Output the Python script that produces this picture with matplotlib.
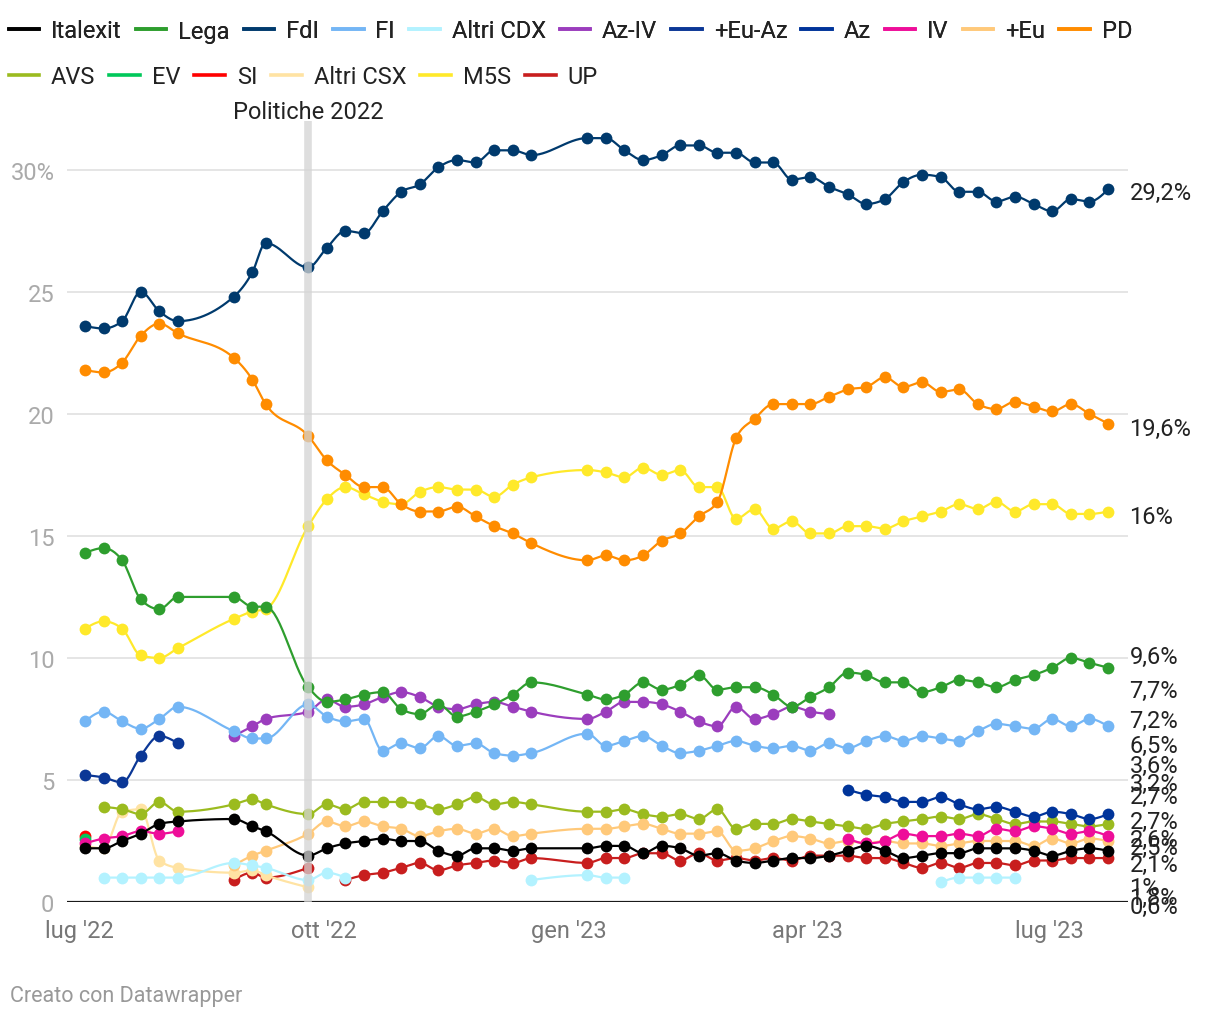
import numpy as np
import pandas as pd
import matplotlib
matplotlib.use('Agg')
from matplotlib import pyplot as plt
from matplotlib import dates as mdates
from matplotlib.lines import Line2D

plt.rcParams['font.family'] = ['Roboto', 'DejaVu Sans']

# Date dei sondaggi (una riga per settimana, con qualche buco)
dates = pd.to_datetime([
    '2022-07-03', '2022-07-10', '2022-07-17', '2022-07-24', '2022-07-31', '2022-08-07',
    '2022-08-28', '2022-09-04', '2022-09-09', '2022-09-25',
    '2022-10-02', '2022-10-09', '2022-10-16', '2022-10-23', '2022-10-30', '2022-11-06',
    '2022-11-13', '2022-11-20', '2022-11-27', '2022-12-04', '2022-12-11', '2022-12-18',
    '2023-01-08', '2023-01-15', '2023-01-22', '2023-01-29', '2023-02-05', '2023-02-12',
    '2023-02-19', '2023-02-26', '2023-03-05', '2023-03-12', '2023-03-19', '2023-03-26',
    '2023-04-02', '2023-04-09', '2023-04-16', '2023-04-23', '2023-04-30', '2023-05-07',
    '2023-05-14', '2023-05-21', '2023-05-28', '2023-06-04', '2023-06-11', '2023-06-18',
    '2023-06-25', '2023-07-02', '2023-07-09', '2023-07-16', '2023-07-23'])

N = None
italexit = [2.2, 2.2, 2.5, 2.8, 3.2, 3.3, 3.4, 3.1, 2.9, 1.9,
            2.2, 2.4, 2.5, 2.6, 2.5, 2.5, 2.1, 1.9, 2.2, 2.2, 2.1, 2.2,
            2.2, 2.3, 2.3, 2.0, 2.3, 2.2, 1.9, 2.0, 1.7, 1.6, 1.7, 1.8, 1.8, 1.9,
            2.1, 2.3, 2.1, 1.8, 1.9, 2.0, 2.0, 2.2, 2.2, 2.2, 2.1, 1.9, 2.1, 2.2, 2.1]
lega = [14.3, 14.5, 14.0, 12.4, 12.0, 12.5, 12.5, 12.1, 12.1, 8.8,
        8.2, 8.3, 8.5, 8.6, 7.9, 7.7, 8.1, 7.6, 7.8, 8.1, 8.5, 9.0,
        8.5, 8.3, 8.5, 9.0, 8.7, 8.9, 9.3, 8.7, 8.8, 8.8, 8.5, 8.0, 8.4, 8.8,
        9.4, 9.3, 9.0, 9.0, 8.6, 8.8, 9.1, 9.0, 8.8, 9.1, 9.3, 9.6, 10.0, 9.8, 9.6]
fdi = [23.6, 23.5, 23.8, 25.0, 24.2, 23.8, 24.8, 25.8, 27.0, 26.0,
       26.8, 27.5, 27.4, 28.3, 29.1, 29.4, 30.1, 30.4, 30.3, 30.8, 30.8, 30.6,
       31.3, 31.3, 30.8, 30.4, 30.6, 31.0, 31.0, 30.7, 30.7, 30.3, 30.3, 29.6, 29.7, 29.3,
       29.0, 28.6, 28.8, 29.5, 29.8, 29.7, 29.1, 29.1, 28.7, 28.9, 28.6, 28.3, 28.8, 28.7, 29.2]
fi = [7.4, 7.8, 7.4, 7.1, 7.5, 8.0, 7.0, 6.7, 6.7, 8.1,
      7.6, 7.4, 7.5, 6.2, 6.5, 6.3, 6.8, 6.4, 6.5, 6.1, 6.0, 6.1,
      6.9, 6.4, 6.6, 6.8, 6.4, 6.1, 6.2, 6.4, 6.6, 6.4, 6.3, 6.4, 6.2, 6.5,
      6.3, 6.6, 6.8, 6.6, 6.8, 6.7, 6.6, 7.0, 7.3, 7.2, 7.1, 7.5, 7.2, 7.5, 7.2]
altri_cdx = [N, 1.0, 1.0, 1.0, 1.0, 1.0, 1.6, 1.5, 1.4, 0.9,
             1.2, 1.0, N, N, N, N, N, N, N, N, N, 0.9,
             1.1, 1.0, 1.0, N, N, N, N, N, N, N, N, N, N, N,
             N, N, N, N, N, 0.8, 1.0, 1.0, 1.0, 1.0, N, N, N, N, N]
az_iv = [N, N, N, N, N, N, 6.8, 7.2, 7.5, 7.8,
         8.3, 8.0, 8.1, 8.4, 8.6, 8.4, 8.0, 7.9, 8.1, 8.2, 8.0, 7.8,
         7.5, 7.8, 8.2, 8.2, 8.1, 7.8, 7.4, 7.2, 8.0, 7.5, 7.7, 8.0, 7.8, 7.7,
         N, N, N, N, N, N, N, N, N, N, N, N, N, N, N]
eu_az = [5.2, 5.1, 4.9, 6.0, 6.8, 6.5] + [N] * 45
az = [N] * 36 + [4.6, 4.4, 4.3, 4.1, 4.1, 4.3, 4.0, 3.8, 3.9, 3.7, 3.5, 3.7, 3.6, 3.4, 3.6]
iv = [2.4, 2.6, 2.7, 2.9, 2.8, 2.9] + [N] * 30 + \
     [2.6, 2.4, 2.5, 2.8, 2.7, 2.7, 2.8, 2.7, 3.0, 2.9, 3.1, 3.0, 2.8, 2.9, 2.7]
piu_eu = [N, N, N, N, N, N, 1.5, 1.9, 2.1, 2.8,
          3.3, 3.1, 3.3, 3.1, 3.0, 2.7, 2.9, 3.0, 2.8, 3.0, 2.7, 2.8,
          3.0, 3.0, 3.1, 3.2, 3.0, 2.8, 2.8, 2.9, 2.1, 2.2, 2.5, 2.7, 2.6, 2.4,
          2.5, 2.4, 2.5, 2.4, 2.4, 2.3, 2.4, 2.5, 2.5, 2.5, 2.3, 2.6, 2.4, 2.6, 2.5]
pd_ = [21.8, 21.7, 22.1, 23.2, 23.7, 23.3, 22.3, 21.4, 20.4, 19.1,
       18.1, 17.5, 17.0, 17.0, 16.3, 16.0, 16.0, 16.2, 15.8, 15.4, 15.1, 14.7,
       14.0, 14.2, 14.0, 14.2, 14.8, 15.1, 15.8, 16.4, 19.0, 19.8, 20.4, 20.4, 20.4, 20.7,
       21.0, 21.1, 21.5, 21.1, 21.3, 20.9, 21.0, 20.4, 20.2, 20.5, 20.3, 20.1, 20.4, 20.0, 19.6]
avs = [N, 3.9, 3.8, 3.6, 4.1, 3.7, 4.0, 4.2, 4.0, 3.6,
       4.0, 3.8, 4.1, 4.1, 4.1, 4.0, 3.8, 4.0, 4.3, 4.0, 4.1, 4.0,
       3.7, 3.7, 3.8, 3.6, 3.5, 3.6, 3.4, 3.8, 3.0, 3.2, 3.2, 3.4, 3.3, 3.2,
       3.1, 3.0, 3.2, 3.3, 3.4, 3.5, 3.4, 3.6, 3.4, 3.2, 3.3, 3.3, 3.2, 3.1, 3.2]
ev = [2.6] + [N] * 50
si = [2.7] + [N] * 50
altri_csx = [2.3, 2.2, 3.7, 3.8, 1.7, 1.4, 1.2, 1.3, 1.1, 0.6] + [N] * 41
m5s = [11.2, 11.5, 11.2, 10.1, 10.0, 10.4, 11.6, 11.9, 12.0, 15.4,
       16.5, 17.0, 16.7, 16.4, 16.3, 16.8, 17.0, 16.9, 16.9, 16.6, 17.1, 17.4,
       17.7, 17.6, 17.4, 17.8, 17.5, 17.7, 17.0, 17.0, 15.7, 16.1, 15.3, 15.6, 15.1, 15.1,
       15.4, 15.4, 15.3, 15.6, 15.8, 16.0, 16.3, 16.1, 16.4, 16.0, 16.3, 16.3, 15.9, 15.9, 16.0]
up = [N, N, N, N, N, N, 0.9, 1.2, 1.0, 1.4,
      N, 0.9, 1.1, 1.2, 1.4, 1.6, 1.3, 1.5, 1.6, 1.7, 1.6, 1.8,
      1.6, 1.8, 1.8, 2.0, 2.0, 1.7, 2.0, 1.7, 1.8, 1.7, 1.8, 1.7, 1.9, 1.9,
      1.9, 1.8, 1.8, 1.6, 1.4, 1.6, 1.4, 1.6, 1.6, 1.5, 1.7, 1.7, 1.8, 1.8, 1.8]

names = ['Italexit', 'Lega', 'FdI', 'FI', 'Altri CDX', 'Az-IV', '+Eu-Az', 'Az', 'IV', '+Eu', 'PD',
         'AVS', 'EV', 'SI', 'Altri CSX', 'M5S', 'UP']
series = [italexit, lega, fdi, fi, altri_cdx, az_iv, eu_az, az, iv, piu_eu, pd_,
          avs, ev, si, altri_csx, m5s, up]
colors = ['#000000', '#2e9e2e', '#003a6d', '#74b6f5', '#b3f2ff', '#9b3dbd', '#0b3796', '#00349a',
          '#ee0e99', '#ffc97a', '#ff8c00', '#9bbb1f', '#00c85a', '#ff0000', '#ffe3a3', '#ffe92a',
          '#c81e1e']

# Etichette a destra (posizione verticale come nel grafico originale)
end_labels = ['29,2%', '19,6%', '16%', '9,6%', '7,7%', '7,2%', '6,5%', '3,6%', '3,2%',
              '2,7%', '2,7%', '2,6%', '2,5%', '2,1%', '1%', '1,8%', '0,6%']
end_label_y = [29.06, 19.4, 15.8, 10.04, 8.65, 7.42, 6.43, 5.61, 4.84,
               4.34, 3.32, 2.58, 2.25, 1.52, 0.61, 0.2, -0.2]

tick_dates = pd.to_datetime(['2022-07-01', '2022-10-01', '2023-01-01', '2023-04-01', '2023-07-01'])
tick_labels = ["lug '22", "ott '22", "gen '23", "apr '23", "lug '23"]
election = pd.Timestamp('2022-09-25')

FS = 17


def monotone_curve(x, y, n=16):
    """Curva monotona (come curveMonotoneX di d3) solo per disegnare la linea."""
    m = len(x)
    if m < 2:
        return x, y
    h = np.diff(x)
    s = np.diff(y) / h
    t = np.zeros(m)
    for i in range(1, m - 1):
        p = (s[i - 1] * h[i] + s[i] * h[i - 1]) / (h[i - 1] + h[i])
        t[i] = (np.sign(s[i - 1]) + np.sign(s[i])) * min(abs(s[i - 1]), abs(s[i]), 0.5 * abs(p))
    if m == 2:
        t[:] = s[0]
    else:
        t[0] = (3 * s[0] - t[1]) / 2
        t[-1] = (3 * s[-1] - t[-2]) / 2
    u = np.linspace(0, 1, n)
    xs, ys = [x[0]], [y[0]]
    for i in range(m - 1):
        uu = u[1:]
        h00 = 2 * uu**3 - 3 * uu**2 + 1
        h10 = uu**3 - 2 * uu**2 + uu
        h01 = -2 * uu**3 + 3 * uu**2
        h11 = uu**3 - uu**2
        xs.extend(x[i] + uu * h[i])
        ys.extend(h00 * y[i] + h10 * h[i] * t[i] + h01 * y[i + 1] + h11 * h[i] * t[i + 1])
    return np.array(xs), np.array(ys)


fig = plt.figure(figsize=(12.2, 10.2), dpi=100)
ax = fig.add_axes([67 / 1220, 1 - 903 / 1020, (1128 - 67) / 1220, (903 - 122) / 1020])
xnum = mdates.date2num(dates)

for i in range(len(series) - 1, -1, -1):
    y = np.array([np.nan if v is None else v for v in series[i]], dtype=float)
    z = 3 + len(series) - i
    ax.plot(dates, y, color=colors[i], lw=0, marker='o', ms=8.5, mew=0, zorder=z)
    # tratti continui (si interrompono dove mancano i dati)
    ok = ~np.isnan(y)
    start = None
    for k in range(len(y) + 1):
        if k < len(y) and ok[k]:
            if start is None:
                start = k
        elif start is not None:
            cx, cy = monotone_curve(xnum[start:k], y[start:k])
            ax.plot(cx, cy, color=colors[i], lw=1.6, zorder=z)
            start = None

ax.axvline(election, color='#d4d4d4', lw=5.5, alpha=0.75, zorder=30)
ax.text(election, 32.4, 'Politiche 2022', ha='center', va='center', fontsize=FS, color='#222222')

ax.set_xlim(pd.Timestamp('2022-06-26 06:00'), pd.Timestamp('2023-07-30 12:00'))
ax.set_ylim(0, 32)
ax.set_yticks([0, 5, 10, 15, 20, 25, 30], ['0', '5', '10', '15', '20', '25', '30%'])
ax.set_xticks(tick_dates, tick_labels)
ax.tick_params(axis='y', length=0, pad=9, labelsize=FS, labelcolor='#aaaaaa')
ax.tick_params(axis='x', length=0, pad=12, labelsize=FS, labelcolor='#777777')
for s in ax.spines.values():
    s.set_visible(False)
ax.grid(axis='y', color='#e3e3e3', lw=1.3, zorder=0)
ax.grid(axis='x', visible=False)
ax.axhline(0, color='#1a1a1a', lw=2.3, zorder=2)

for lab, yy in zip(end_labels, end_label_y):
    ax.annotate(lab, xy=(1.0, yy), xycoords=('axes fraction', 'data'), xytext=(1, 0),
                textcoords='offset points', ha='left', va='center', fontsize=FS,
                color='#222222', annotation_clip=False)

handles = [Line2D([0], [0], color=c, lw=2.6) for c in colors]
leg_kw = dict(frameon=False, fontsize=FS, handlelength=1.3, handletextpad=0.5,
              columnspacing=0.59, borderpad=0, borderaxespad=0, labelcolor='#222222')
leg1 = fig.legend(handles[:11], names[:11], loc='center left',
                  bbox_to_anchor=(0.007, 1 - 32 / 1020), ncol=11, **leg_kw)
fig.add_artist(leg1)
fig.legend(handles[11:], names[11:], loc='center left',
           bbox_to_anchor=(0.007, 1 - 78 / 1020), ncol=6, **leg_kw)

fig.text(10 / 1220, 1 - 997 / 1020, 'Creato con Datawrapper', fontsize=15.5, color='#999999',
         va='center', ha='left')

plt.savefig('out.png', dpi=100)
